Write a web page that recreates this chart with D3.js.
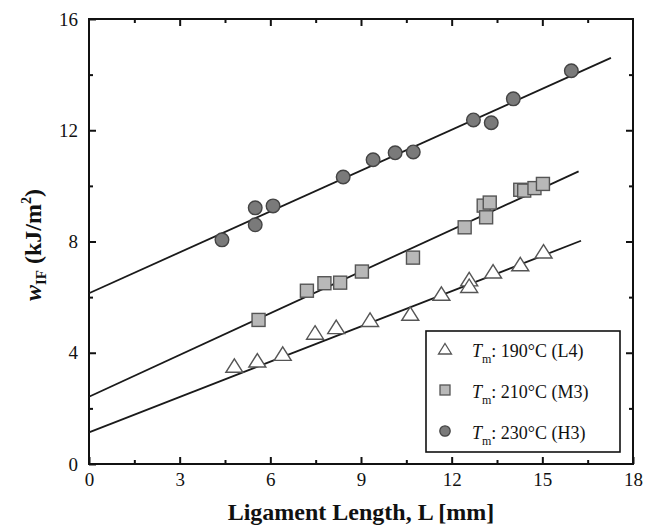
<!DOCTYPE html>
<html><head><meta charset="utf-8">
<script src="https://cdn.jsdelivr.net/npm/d3@7"></script>
<style>body{margin:0;background:#fff}svg{display:block}</style>
</head><body>
<svg id="c" width="656" height="528"></svg>
<script>
// ---- data ----
const l4L = [4.81,5.57,6.41,7.48,8.18,9.30,10.63,11.66,12.58,12.58,13.37,14.27,15.04];
const l4W = [3.53,3.72,3.96,4.72,4.92,5.18,5.40,6.12,6.64,6.40,6.92,7.18,7.64];
const m3L = [5.61,7.21,7.79,8.31,9.03,10.72,12.43,13.06,13.14,13.26,14.27,14.40,14.74,15.02];
const m3W = [5.18,6.23,6.50,6.52,6.92,7.42,8.51,9.29,8.87,9.40,9.86,9.83,9.92,10.07];
const h3L = [4.40,5.50,5.50,6.09,8.41,9.40,10.13,10.73,12.72,13.31,14.04,15.96];
const h3W = [8.06,9.21,8.60,9.28,10.32,10.94,11.19,11.22,12.37,12.27,13.13,14.14];
const seriesNames = ["190°C (L4)", "210°C (M3)", "230°C (H3)"];
const fitIntercept = [1.14, 2.42, 6.14];
const fitSlope = [0.423, 0.50, 0.49];
const fitEnd = [16.28, 16.2, 17.27];
const xTicks = [0,3,6,9,12,15,18];
const xMinor = [1.5,4.5,7.5,10.5,13.5,16.5];
const yTicks = [0,4,8,12,16];
const yMinor = [2,6,10,14];

const svg = d3.select("#c");
const L = 89, R = 633, T = 19, B = 464;
const x = d3.scaleLinear().domain([0,18]).range([L,R]);
const y = d3.scaleLinear().domain([0,16]).range([B,T]);
const serif = "'Liberation Serif','Times New Roman',serif";

function axisStyle(g){ g.select(".domain").remove(); g.selectAll("line").attr("stroke","#111").attr("stroke-width",2);
  g.selectAll("text").attr("font-family",serif).attr("font-size",19).attr("fill","#111"); }

// major & minor ticks
svg.append("g").attr("transform",`translate(0,${B})`)
  .call(d3.axisBottom(x).tickValues(xTicks).tickSizeInner(-7).tickSizeOuter(0).tickPadding(9).tickFormat(d3.format("d"))).call(axisStyle);
svg.append("g").attr("transform",`translate(0,${B})`)
  .call(d3.axisBottom(x).tickValues(xMinor).tickSizeInner(-4).tickSizeOuter(0).tickFormat("")).call(axisStyle);
svg.append("g").attr("transform",`translate(0,${T})`)
  .call(d3.axisTop(x).tickValues(xTicks.slice(1,-1)).tickSizeInner(-7).tickSizeOuter(0).tickFormat("")).call(axisStyle);
svg.append("g").attr("transform",`translate(0,${T})`)
  .call(d3.axisTop(x).tickValues(xMinor).tickSizeInner(-4).tickSizeOuter(0).tickFormat("")).call(axisStyle);
svg.append("g").attr("transform",`translate(${L},0)`)
  .call(d3.axisLeft(y).tickValues(yTicks).tickSizeInner(-7).tickSizeOuter(0).tickPadding(11).tickFormat(d3.format("d"))).call(axisStyle);
svg.append("g").attr("transform",`translate(${L},0)`)
  .call(d3.axisLeft(y).tickValues(yMinor).tickSizeInner(-4).tickSizeOuter(0).tickFormat("")).call(axisStyle);
svg.append("g").attr("transform",`translate(${R},0)`)
  .call(d3.axisRight(y).tickValues(yTicks.slice(1,-1)).tickSizeInner(-7).tickSizeOuter(0).tickFormat("")).call(axisStyle);
svg.append("g").attr("transform",`translate(${R},0)`)
  .call(d3.axisRight(y).tickValues(yMinor).tickSizeInner(-4).tickSizeOuter(0).tickFormat("")).call(axisStyle);

// frame
svg.append("rect").attr("x",L).attr("y",T).attr("width",R-L).attr("height",B-T)
  .attr("fill","none").attr("stroke","#111").attr("stroke-width",2);

// fit lines
const line = d3.line().x(d=>x(d[0])).y(d=>y(d[1]));
fitIntercept.forEach((b,i)=>{
  svg.append("path").attr("d", line([[0,b],[fitEnd[i], b+fitSlope[i]*fitEnd[i]]]))
    .attr("fill","none").attr("stroke","#1a1a1a").attr("stroke-width",1.8);
});

// marker generators
function tri(w,h){ return `M0,${-h/2-0.5}L${w/2},${h/2}L${-w/2},${h/2}Z`; }
const sqFill="#b8b8b8", sqStroke="#555", ciFill="#7a7a7a", ciStroke="#444", trStroke="#555";

svg.append("g").selectAll("path").data(d3.zip(l4L,l4W)).join("path")
  .attr("transform",d=>`translate(${x(d[0])},${y(d[1])})`).attr("d",tri(17,13))
  .attr("fill","#fff").attr("stroke",trStroke).attr("stroke-width",1.4);
svg.append("g").selectAll("rect").data(d3.zip(m3L,m3W)).join("rect")
  .attr("x",d=>x(d[0])-6.5).attr("y",d=>y(d[1])-6.5).attr("width",13).attr("height",13)
  .attr("fill",sqFill).attr("stroke",sqStroke).attr("stroke-width",1.4);
svg.append("g").selectAll("circle").data(d3.zip(h3L,h3W)).join("circle")
  .attr("cx",d=>x(d[0])).attr("cy",d=>y(d[1])).attr("r",6.8)
  .attr("fill",ciFill).attr("stroke",ciStroke).attr("stroke-width",1.4);

// legend
const lg = svg.append("g");
lg.append("rect").attr("x",426).attr("y",331).attr("width",194).attr("height",121)
  .attr("fill","#fff").attr("stroke","#111").attr("stroke-width",1.6);
const rowY = [349, 390, 431];
lg.append("path").attr("transform",`translate(445,${rowY[0]})`).attr("d",tri(13,10))
  .attr("fill","#fff").attr("stroke",trStroke).attr("stroke-width",1.3);
lg.append("rect").attr("x",440).attr("y",rowY[1]-5).attr("width",10).attr("height",10)
  .attr("fill",sqFill).attr("stroke",sqStroke).attr("stroke-width",1.3);
lg.append("circle").attr("cx",445).attr("cy",rowY[2]).attr("r",5.2)
  .attr("fill",ciFill).attr("stroke",ciStroke).attr("stroke-width",1.3);
seriesNames.forEach((n,i)=>{
  const t = lg.append("text").attr("x",472).attr("y",rowY[i]+8).attr("font-family",serif)
    .attr("font-size",18).attr("fill","#111");
  t.append("tspan").attr("font-style","italic").text("T");
  t.append("tspan").attr("font-size",12).attr("dy",6).text("m");
  t.append("tspan").attr("dy",-6).text(": " + n);
});

// axis titles
svg.append("text").attr("x",(L+R)/2).attr("y",520).attr("text-anchor","middle")
  .attr("font-family",serif).attr("font-weight","bold").attr("font-size",24).attr("fill","#111")
  .text("Ligament Length, L [mm]");
const yt = svg.append("text").attr("transform","translate(41,245) rotate(-90)").attr("text-anchor","middle")
  .attr("font-family",serif).attr("font-weight","bold").attr("font-size",24).attr("fill","#111");
yt.append("tspan").attr("font-style","italic").text("w");
yt.append("tspan").attr("font-size",15).attr("dy",5).text("IF");
yt.append("tspan").attr("dy",-5).text(" (kJ/m");
yt.append("tspan").attr("font-size",14).attr("dy",-10).text("2");
yt.append("tspan").attr("dy",10).text(")");
</script>
</body></html>
